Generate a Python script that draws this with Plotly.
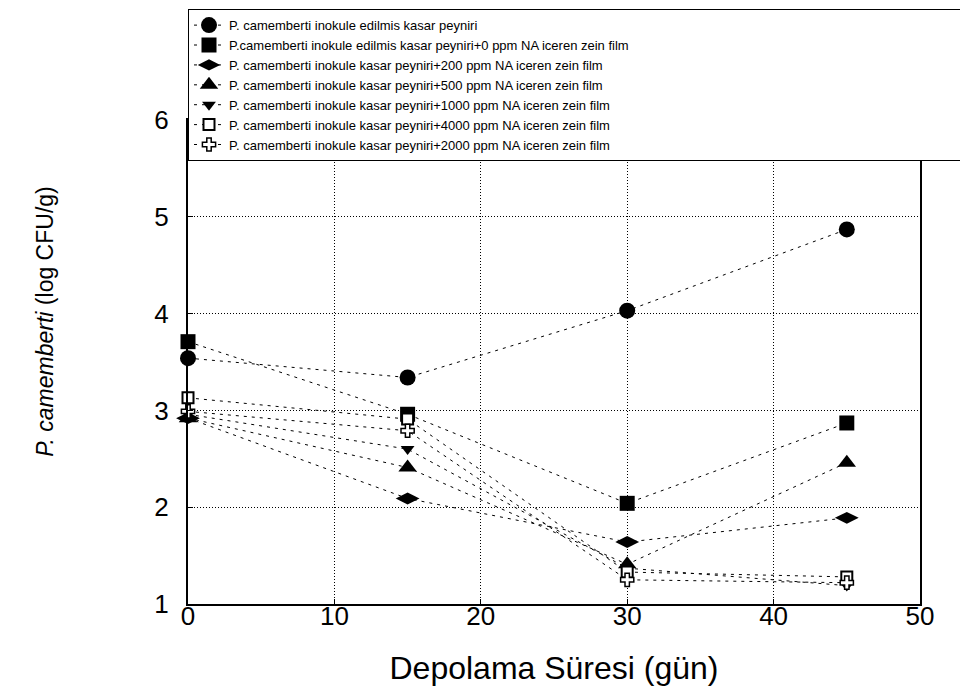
import plotly.graph_objects as go

days = [0, 15, 30, 45]

names = [
    "P. camemberti inokule edilmis kasar peyniri",
    "P.camemberti inokule edilmis kasar peyniri+0 ppm NA iceren zein film",
    "P. camemberti inokule kasar peyniri+200 ppm NA iceren zein film",
    "P. camemberti inokule kasar peyniri+500 ppm NA iceren zein film",
    "P. camemberti inokule kasar peyniri+1000 ppm NA iceren zein film",
    "P. camemberti inokule kasar peyniri+4000 ppm NA iceren zein film",
    "P. camemberti inokule kasar peyniri+2000 ppm NA iceren zein film",
]

control = [3.54, 3.34, 4.03, 4.87]
film_0 = [3.71, 2.96, 2.04, 2.87]
film_200 = [2.92, 2.09, 1.64, 1.89]
film_500 = [2.92, 2.41, 1.41, 2.46]
film_1000 = [2.96, 2.60, 1.37, 1.19]
film_4000 = [3.13, 2.91, 1.33, 1.28]
film_2000 = [2.99, 2.79, 1.25, 1.22]

series = [control, film_0, film_200, film_500, film_1000, film_4000, film_2000]
symbols = ["circle", "square", "diamond-wide", "triangle-up", "triangle-down", "square", "cross"]
sizes = [16, 15, 17, 16, 12, 11, 11]
fills = ["black", "black", "black", "black", "black", "white", "white"]
mlw = [0, 0, 0, 0, 0, 2, 1.5]

fig = go.Figure()
for name, vals, sym, sz, fc, lw in zip(names, series, symbols, sizes, fills, mlw):
    fig.add_trace(go.Scatter(
        x=days, y=vals, name=name, mode="lines+markers",
        line=dict(color="black", width=1, dash="3px,5px"),
        marker=dict(symbol=sym, size=sz, color=fc, line=dict(color="black", width=lw)),
        cliponaxis=False,
    ))

axis_common = dict(
    showline=True, linecolor="black", linewidth=2, mirror=True,
    showgrid=True, gridcolor="black", gridwidth=1, griddash="1px,2px",
    ticks="inside", ticklen=5, tickcolor="black",
    zeroline=False,
    tickfont=dict(family="Liberation Sans, Arial, sans-serif", size=26, color="black"),
)

fig.update_layout(
    width=968, height=696,
    margin=dict(l=180, r=56, t=112, b=100, autoexpand=False),
    paper_bgcolor="white", plot_bgcolor="white",
    showlegend=True,
    legend=dict(
        orientation="h", entrywidthmode="pixels", entrywidth=728,
        x=0, xanchor="left", xref="paper",
        y=1.229, yanchor="top", yref="paper",
        bgcolor="white", bordercolor="black", borderwidth=1,
        font=dict(family="Liberation Sans, Arial, sans-serif", size=13, color="black"),
        tracegroupgap=0,
    ),
    xaxis=dict(
        range=[0, 50], tickvals=[0, 10, 20, 30, 40, 50],
        ticklabelstandoff=-12,
        title=dict(text="Depolama Süresi (gün)", standoff=26,
                   font=dict(family="Liberation Sans, Arial, sans-serif", size=32, color="black")),
        **axis_common,
    ),
    yaxis=dict(
        range=[1, 6], tickvals=[1, 2, 3, 4, 5, 6],
        ticklabelstandoff=12,
        **axis_common,
    ),
    annotations=[dict(
        text="<i>P. camemberti</i> (log CFU/g)",
        xref="paper", yref="paper", x=0, y=0.583,
        xanchor="center", yanchor="middle", xshift=-143,
        textangle=-90, showarrow=False,
        font=dict(family="Liberation Sans, Arial, sans-serif", size=23, color="black"),
    )],
)

fig.write_html("out.html")
